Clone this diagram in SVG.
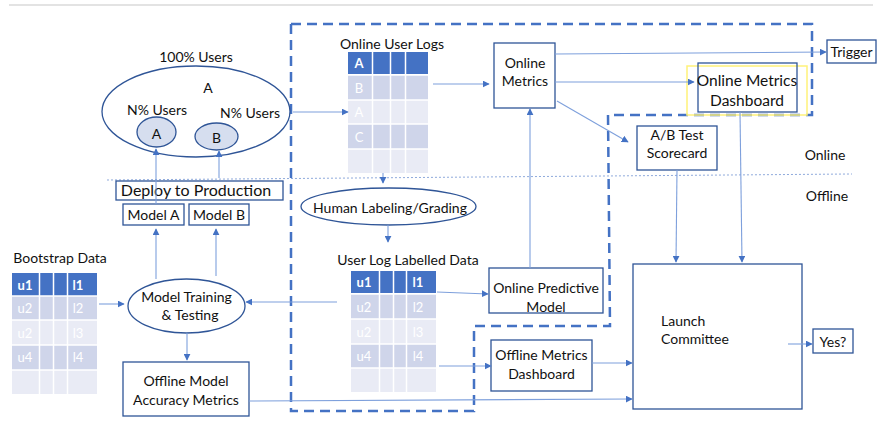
<svg xmlns="http://www.w3.org/2000/svg" width="883" height="429" viewBox="0 0 883 429">
<defs>
<marker id="ah" viewBox="0 0 10 10" refX="9" refY="5" markerWidth="7" markerHeight="7" orient="auto" markerUnits="userSpaceOnUse">
<path d="M0,0 L10,5 L0,10 z" fill="#4472C4"/>
</marker>
<style>
text{font-family:Lato,"Open Sans","Liberation Sans",sans-serif;fill:#111;font-size:14px;text-anchor:middle;dominant-baseline:central}
.box{fill:#fff;stroke:#2F5597;stroke-width:1.3}
.ell{fill:#fff;stroke:#2F5597;stroke-width:1.3}
.sm{fill:#D6DEEF;stroke:#2F5597;stroke-width:1.3}
.c{fill:none;stroke:#7EA0DC;stroke-width:1.1}
.a{marker-end:url(#ah)}
.hd{fill:#4472C4}
.r1{fill:#CFD5EA}
.r2{fill:#E9EBF5}
.grid{stroke:#fff;stroke-width:1.5;fill:none}
.tw{fill:#fff;font-size:13px}
.tb{fill:#fff;font-size:13px;font-weight:bold}
</style>
</defs>
<line x1="9" y1="5" x2="873" y2="5" stroke="#C8C8C8" stroke-width="1.2"/>
<path d="M291,24 L812,24 L812,115 L608,115 L610,326 L474,326 L474,411 L291,411 Z" fill="none" stroke="#4472C4" stroke-width="2.5" stroke-dasharray="10,6"/>
<line x1="107" y1="180" x2="852" y2="174" stroke="#8FAADC" stroke-width="1" stroke-dasharray="2,2"/>
<text x="825" y="154">Online</text>
<text x="827" y="195">Offline</text>

<g id="users">
<text x="196" y="56">100% Users</text>
<ellipse class="ell" cx="196" cy="111.5" rx="94" ry="45.5"/>
<text x="208" y="87">A</text>
<text x="157" y="109">N% Users</text>
<text x="250" y="112">N% Users</text>
</g>
<g id="userA"><ellipse class="sm" cx="156.5" cy="132" rx="19.5" ry="15"/><text x="156.5" y="133">A</text></g>
<g id="userB"><ellipse class="sm" cx="216.5" cy="136.5" rx="21.5" ry="13.5"/><text x="216.5" y="137">B</text></g>

<g id="deploy"><rect class="box" x="116" y="181" width="167" height="19"/><text x="196" y="189" style="font-size:16px">Deploy to Production</text></g>
<g id="modelA"><rect class="box" x="123" y="204" width="61" height="21"/><text x="153.5" y="214.5">Model A</text></g>
<g id="modelB"><rect class="box" x="189" y="204" width="60" height="21"/><text x="219" y="214.5">Model B</text></g>

<g id="bootstrap">
<text x="60" y="257">Bootstrap Data</text>
<rect class="hd" x="12" y="273" width="85" height="23"/>
<rect class="r1" x="12" y="296" width="85" height="24"/>
<rect class="r2" x="12" y="320" width="85" height="25"/>
<rect class="r1" x="12" y="345" width="85" height="25"/>
<rect class="r2" x="12" y="370" width="85" height="24"/>
<path class="grid" d="M12,296H97M12,320H97M12,345H97M12,370H97M39.5,273V394M53.5,273V394M67.5,273V394"/>
<text class="tb" x="25" y="285">u1</text><text class="tb" x="78" y="285">l1</text>
<text class="tw" x="25" y="308">u2</text><text class="tw" x="78" y="308">l2</text>
<text class="tw" x="25" y="333">u2</text><text class="tw" x="78" y="333">l3</text>
<text class="tw" x="25" y="357">u4</text><text class="tw" x="78" y="357">l4</text>
</g>

<g id="training"><ellipse class="ell" cx="186.5" cy="306" rx="58.5" ry="27"/><text x="186.5" y="296">Model Training</text><text x="190" y="314">&amp; Testing</text></g>
<g id="offlineAcc"><rect class="box" x="123" y="362" width="126" height="54"/><text x="186" y="380">Offline Model</text><text x="186" y="399">Accuracy Metrics</text></g>

<g id="onlineLogs">
<text x="392" y="43">Online User Logs</text>
<rect class="hd" x="348" y="52" width="80" height="22"/>
<rect class="r1" x="348" y="75" width="80" height="25"/>
<rect class="r2" x="348" y="100" width="80" height="24"/>
<rect class="r1" x="348" y="124" width="80" height="25"/>
<rect class="r2" x="348" y="149" width="80" height="24"/>
<path class="grid" d="M348,75H428M348,100H428M348,124H428M348,149H428M372.5,52V173M390.5,52V173M405.5,52V173"/>
<text class="tb" x="359" y="63">A</text>
<text class="tw" x="359" y="88">B</text>
<text class="tw" x="359" y="112">A</text>
<text class="tw" x="359" y="137">C</text>
</g>

<g id="human"><ellipse class="ell" cx="388.5" cy="206.5" rx="87.5" ry="18.5"/><text x="390" y="207">Human Labeling/Grading</text></g>

<g id="labelled">
<text x="408" y="259">User Log Labelled Data</text>
<rect class="hd" x="351" y="271" width="85" height="22"/>
<rect class="r1" x="351" y="294" width="85" height="25"/>
<rect class="r2" x="351" y="319" width="85" height="25"/>
<rect class="r1" x="351" y="344" width="85" height="24"/>
<rect class="r2" x="351" y="368" width="85" height="24"/>
<path class="grid" d="M351,294H436M351,319H436M351,344H436M351,368H436M379.5,271V392M393.5,271V392M406.5,271V392"/>
<text class="tb" x="364" y="282">u1</text><text class="tb" x="418" y="282">l1</text>
<text class="tw" x="364" y="307">u2</text><text class="tw" x="418" y="307">l2</text>
<text class="tw" x="364" y="332">u2</text><text class="tw" x="418" y="332">l3</text>
<text class="tw" x="364" y="356">u4</text><text class="tw" x="418" y="356">l4</text>
</g>

<g id="onlineMetrics"><rect class="box" x="494" y="43" width="61" height="65"/><text x="525" y="62">Online</text><text x="525" y="80">Metrics</text></g>
<g id="trigger"><rect class="box" x="827" y="40" width="49" height="23"/><text x="851.5" y="51.5">Trigger</text></g>
<g id="onlineDash">
<rect x="687" y="66" width="120" height="49" fill="none" stroke="#FFF27A" stroke-width="1.5"/>
<rect class="box" x="698" y="63" width="99" height="49" fill="none" style="fill:none"/>
<text x="747" y="80" style="font-size:15.5px">Online Metrics</text><text x="747" y="100" style="font-size:15.5px">Dashboard</text>
</g>
<g id="abtest"><rect class="box" x="637" y="126" width="80" height="44"/><text x="677" y="134">A/B Test</text><text x="677" y="152">Scorecard</text></g>
<g id="predictive"><rect class="box" x="489" y="268" width="114" height="45"/><text x="546" y="287">Online Predictive</text><text x="546" y="306">Model</text></g>
<g id="offlineDash"><rect class="box" x="491" y="340" width="101" height="51"/><text x="541.5" y="354">Offline Metrics</text><text x="541.5" y="373">Dashboard</text></g>
<g id="launch"><rect class="box" x="633" y="264" width="169" height="145"/><text x="661" y="320" style="text-anchor:start">Launch</text><text x="661" y="338" style="text-anchor:start">Committee</text></g>
<g id="yes"><rect class="box" x="813" y="329" width="40" height="24"/><text x="833" y="341">Yes?</text></g>

<g id="connectors">
<path class="c a" d="M156,204 V149"/>
<path class="c a" d="M219,178 V151"/>
<path class="c a" d="M156,279 V229"/>
<path class="c a" d="M216,276 V229"/>
<path class="c a" d="M99,304 H124"/>
<path class="c a" d="M187,333 V360"/>
<path class="c a" d="M337,302 H246"/>
<path class="c a" d="M249,401 L632,399"/>
<path class="c a" d="M293,112 L348,112"/>
<path class="c a" d="M433,84 H489"/>
<path class="c a" d="M383,173 V183"/>
<path class="c a" d="M388,225 V242"/>
<path class="c a" d="M437,292 L488,294"/>
<path class="c a" d="M439,366 H491"/>
<path class="c a" d="M530,268 V109"/>
<path class="c a" d="M555,54 L826,52"/>
<path class="c a" d="M555,82 H694"/>
<path class="c a" d="M557,101 L628,142"/>
<path class="c a" d="M677,170 L676,262"/>
<path class="c a" d="M740,112 L742,262"/>
<path class="c a" d="M592,363 H632"/>
<path class="c a" d="M788,344 H812"/>
</g>
</svg>
